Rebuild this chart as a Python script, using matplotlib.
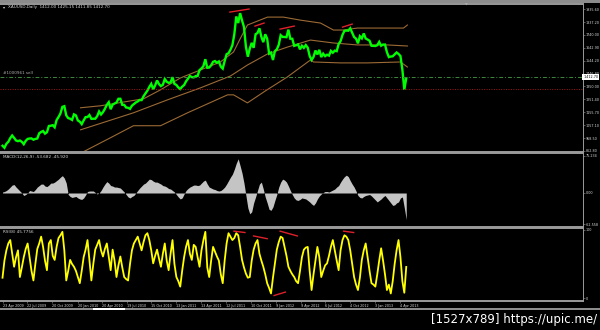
import matplotlib
matplotlib.use("Agg")
import matplotlib.pyplot as plt
from matplotlib.patches import Rectangle

W, H = 600, 330

# weekly closes, XAUUSD, week 0 = 23 Apr 2009
price = [
    900, 885, 915, 930, 958, 978, 960, 940, 935, 940,
    930, 912, 937, 952, 955, 956, 946, 952, 955, 995,
    1005, 1012, 992, 1003, 1050, 1052, 1056, 1040, 1095, 1118,
    1145, 1195, 1200, 1130, 1110, 1105, 1096, 1138, 1130, 1092,
    1083, 1064, 1092, 1117, 1118, 1133, 1104, 1105, 1105, 1124,
    1160, 1137, 1155, 1180, 1210, 1230, 1177, 1212, 1220, 1228,
    1256, 1256, 1210, 1210, 1190, 1188, 1180, 1204, 1216, 1228,
    1236, 1247, 1246, 1275, 1297, 1318, 1346, 1369, 1328, 1357,
    1395, 1368, 1352, 1362, 1406, 1385, 1377, 1380, 1420, 1369,
    1361, 1342, 1330, 1348, 1360, 1388, 1409, 1429, 1420, 1418,
    1428, 1429, 1474, 1486, 1504, 1556, 1491, 1493, 1510, 1536,
    1542, 1529, 1539, 1500, 1485, 1542, 1594, 1601, 1628, 1662,
    1745, 1880, 1830, 1905, 1850, 1800, 1650, 1575, 1636, 1680,
    1642, 1745, 1755, 1790, 1725, 1685, 1745, 1712, 1598, 1606,
    1550, 1617, 1631, 1665, 1738, 1725, 1724, 1723, 1780, 1711,
    1711, 1657, 1662, 1668, 1631, 1658, 1642, 1663, 1644, 1580,
    1550, 1573, 1622, 1592, 1627, 1572, 1598, 1579, 1590, 1583,
    1619, 1605, 1621, 1617, 1671, 1693, 1740, 1771, 1773, 1772,
    1790, 1757, 1724, 1712, 1676, 1730, 1714, 1751, 1713, 1705,
    1696, 1658, 1657, 1656, 1662, 1687, 1658, 1667, 1667, 1609,
    1572, 1576, 1578, 1592, 1607, 1596, 1580, 1476, 1325, 1412,
]

macd = [
    2, 3, 5, 8, 12, 16, 17, 12, 8, 4,
    0, -5, -3, 0, 5, 4, 3, 7, 12, 15,
    18, 18, 14, 13, 16, 20, 20, 22, 25, 28,
    32, 35, 30, 20, -3, -7, -9, -8, -7, -10,
    -12, -13, -10, -4, 3, 4, 4, 4, 1, -2,
    0, 5, 12, 18, 23, 20, 15, 14, 12, 12,
    11, 10, 6, 2, -3, -8, -10, -7, -5, 0,
    5, 10, 14, 18, 20, 24, 28, 27, 24, 22,
    22, 20, 18, 15, 14, 12, 9, 8, 5, 2,
    -3, -8, -12, -10, -2, 5, 9, 12, 14, 16,
    16, 15, 16, 20, 24, 26, 18, 12, 10, 8,
    7, 5, 4, 5, 8, 12, 18, 25, 32, 38,
    48, 60, 69, 55, 40, 20, -5, -30, -42, -38,
    -20, -8, 5, 18, 22, 8, -8, -20, -33, -35,
    -28, -15, -3, 12, 22, 28, 26, 22, 14, 5,
    -3, -10, -14, -15, -13, -10, -11, -12, -15, -18,
    -22, -25, -20, -12, -6, -2, 1, 3, 3, 2,
    4, 6, 8, 12, 15, 22, 28, 33, 36, 33,
    25, 18, 12, 4, -5, -9, -10, -7, -5, -4,
    -3, -6, -10, -14, -18, -15, -12, -8, -5, -10,
    -15, -20, -25, -24, -20, -18, -10, -8, -30, -53.682,
]

rsi = [
    30, 55, 70, 80, 85, 65, 46, 60, 70, 31,
    45, 60, 72, 80, 60, 40, 26, 50, 72, 80,
    90, 75, 55, 41, 80, 85, 62, 56, 75, 88,
    92, 97, 70, 26, 40, 56, 50, 46, 40, 31,
    22, 40, 60, 71, 85, 55, 26, 50, 71, 78,
    85, 70, 61, 72, 80, 60, 41, 71, 55, 31,
    48, 61, 45, 31, 28, 26, 50, 70, 80, 85,
    90, 80, 70, 82, 92, 95, 85, 70, 51, 62,
    71, 58, 46, 65, 80, 55, 41, 65, 85, 50,
    31, 25, 17, 40, 60, 75, 85, 65, 56, 78,
    75, 60, 46, 70, 85, 97, 45, 31, 55, 75,
    68, 61, 55, 35, 22, 55, 80, 95, 90, 85,
    88, 95, 92, 75, 56, 45, 36, 30, 31, 55,
    71, 80, 85, 65, 55, 46, 35, 22, 15, 7,
    30, 50, 71, 82, 90, 88, 75, 62, 46, 40,
    35, 31, 25, 22, 40, 60, 71, 74, 75, 40,
    12, 35, 55, 75, 60, 31, 40, 48, 51, 62,
    75, 85, 70, 55, 41, 70, 85, 92, 90, 85,
    70, 50, 31, 20, 12, 30, 56, 70, 80, 60,
    40, 22, 20, 17, 35, 55, 73, 55, 35, 12,
    20, 7, 25, 50, 70, 85, 60, 25, 8, 45.7756,
]

# long-period bands (week, price)
upper_wk = [40.4, 50.7, 73.0, 81.8, 92.1, 102.5, 112.8, 119.6, 123.2, 126.8,
            137.2, 145.4, 154.2, 164.6, 171.3, 176.5, 183.7, 207.6, 209.6]
upper_px = [1188, 1203, 1256, 1324, 1414, 1475, 1535, 1611, 1716, 1815,
            1875, 1875, 1852, 1830, 1777, 1777, 1792, 1792, 1815]
mid_wk = [40.4, 67.8, 85.4, 102.5, 118.0, 126.8, 137.2, 147.5, 159.4, 171.3,
          183.7, 199.3, 209.6]
mid_px = [1021, 1150, 1248, 1339, 1429, 1512, 1596, 1648, 1701, 1679,
          1664, 1664, 1656]
lower_wk = [41.9, 55.9, 67.8, 81.8, 95.8, 116.5, 119.6, 126.8, 136.1, 147.5,
            159.4, 161.0, 175.0, 188.9, 206.0, 209.6]
lower_px = [855, 961, 1052, 1052, 1150, 1286, 1286, 1225, 1316, 1422,
            1550, 1535, 1528, 1528, 1535, 1497]

# trend lines drawn on the chart: (w0, w1, v0, v1)
price_trends = [(117.7, 127.6, 1913, 1936), (130.7, 135.4, 1807, 1830),
                (143.7, 151.0, 1784, 1807), (176.0, 181.0, 1799, 1822)]
rsi_trends = [(119.8, 125.5, 98, 96), (130.0, 137.0, 91, 87),
              (143.7, 152.6, 98, 91), (140.6, 146.4, 4, 9),
              (176.6, 181.8, 98, 96)]

order_level = 1421
stop_level = 1333
last_price = "1412.70"

price_ticks = [1935.60, 1837.20, 1740.00, 1642.90, 1544.20, 1446.80,
               1350.00, 1251.40, 1155.70, 1057.10, 958.50, 862.80]
macd_ticks = [75.234, 0.0, -62.558]
macd_labels = ["75.234", "0.00", "-62.558"]
rsi_ticks = [100, 0]

date_wk = [0, 12.9, 25.7, 38.9, 51.7, 64.6, 77.1, 90, 102.9, 115.7,
           128.6, 141.6, 154.6, 167.1, 180, 193, 206]
date_labels = ["23 Apr 2009", "22 Jul 2009", "20 Oct 2009", "20 Jan 2010",
               "20 Apr 2010", "19 Jul 2010", "15 Oct 2010", "13 Jan 2011",
               "13 Apr 2011", "12 Jul 2011", "10 Oct 2011", "9 Jan 2012",
               "9 Apr 2012", "6 Jul 2012", "4 Oct 2012", "3 Jan 2013",
               "4 Apr 2013"]

weeks = list(range(len(price)))

BORDER = "#9a9a9a"
TXT = "#d8d8d8"


def rect(x0, y0, x1, y1):
    return [x0 / W, 1 - y1 / H, (x1 - x0) / W, (y1 - y0) / H]


fig = plt.figure(figsize=(W / 100, H / 100), dpi=100, facecolor="black")

ax = fig.add_axes(rect(0, 3.8, 583, 152))
ax_m = fig.add_axes(rect(0, 153, 583, 226.5))
ax_r = fig.add_axes(rect(0, 227.8, 583, 301))

for a in (ax, ax_m, ax_r):
    a.set_facecolor("black")
    a.set_xlim(-1.3, 300.5)
    a.spines["left"].set_visible(False)
    a.spines["right"].set_color(BORDER)
    a.spines["right"].set_linewidth(0.7)
    for s in ("top", "bottom"):
        a.spines[s].set_color(BORDER)
        a.spines[s].set_linewidth(1.4)
    a.yaxis.tick_right()
    a.tick_params(axis="y", colors=TXT, labelsize=2.4, length=1.3,
                  width=0.4, pad=0.8)
    a.tick_params(axis="y", color=BORDER)

ax.set_xticks([])
ax_m.set_xticks([])

# main price panel
ax.set_ylim(852.9, 1975.8)
ax.plot(upper_wk, upper_px, color="#9c6a34", lw=0.8)
ax.plot(mid_wk, mid_px, color="#9c6a34", lw=0.8)
ax.plot(lower_wk, lower_px, color="#9c6a34", lw=0.8)
ax.plot(weeks, price, color="#00ff00", lw=1.7, solid_joinstyle="miter")
for w0, w1, v0, v1 in price_trends:
    ax.plot([w0, w1], [v0, v1], color="#e0202a", lw=1.0)
ax.axhline(order_level, color="#3d8a3d", lw=0.7, dashes=(4, 2, 1, 2))
ax.axhline(stop_level, color="#a01818", lw=0.7, ls=(0, (1, 1.5)))
ax.set_yticks(price_ticks, [f"{t:.2f}" for t in price_ticks])
ax.text(1.0, order_level, " " + last_price, transform=ax.get_yaxis_transform(),
        fontsize=2.4, color="black", va="center", ha="left",
        bbox=dict(boxstyle="square,pad=0.25", fc="white", ec="white", lw=0))
ax.text(0.5, order_level + 12, "#1000961 sell", fontsize=3, color="#b0b0b0",
        va="bottom", ha="left")

# MACD panel
ax_m.set_ylim(-67.6, 80.7)
ax_m.fill_between(weeks, 0, macd, color="#c4c4c4", lw=0)
ax_m.set_yticks(macd_ticks, macd_labels)

# RSI panel
ax_r.set_ylim(-4, 102.9)
ax_r.plot(weeks, rsi, color="#ffff00", lw=1.3)
for w0, w1, v0, v1 in rsi_trends:
    ax_r.plot([w0, w1], [v0, v1], color="#e0202a", lw=1.0)
ax_r.set_yticks(rsi_ticks, [str(t) for t in rsi_ticks])
ax_r.set_xticks(date_wk, date_labels)
ax_r.tick_params(axis="x", colors=TXT, labelsize=2.4, length=1.5,
                 width=0.4, pad=0.8)
ax_r.tick_params(axis="x", color=BORDER)
for lab in ax_r.get_xticklabels():
    lab.set_ha("left")

# headers
fig.text(3 / W, 1 - 6.8 / H, "\u25be", fontsize=3, color=TXT, va="center")
fig.text(8 / W, 1 - 6.8 / H, "XAUUSD,Daily  1412.00 1425.15 1411.85 1412.70",
         fontsize=3, color=TXT, va="center")
fig.text(3 / W, 1 - 157 / H, "MACD(12,26,9) -53.682 -45.920",
         fontsize=3, color=TXT, va="center")
fig.text(3 / W, 1 - 232 / H, "RSI(8) 45.7756",
         fontsize=3, color=TXT, va="center")
fig.text(466 / W, 1 - 4.6 / H, "\u25bc", fontsize=2.5, color="#b0b0b0",
         va="center", ha="center")

# window chrome
fig.add_artist(Rectangle((0, 1 - 3 / H), 1, 3 / H, transform=fig.transFigure,
                         fc="#8c8c8c", ec="none"))
fig.add_artist(Rectangle((0, 1 - 310 / H), 1, 2 / H, transform=fig.transFigure,
                         fc="#8c8c8c", ec="none"))
fig.add_artist(Rectangle((93 / W, 1 - 310 / H), 32 / W, 2 / H,
                         transform=fig.transFigure, fc="white", ec="none"))

fig.text(597 / W, 1 - 320 / H, "[1527x789] https://upic.me/", ha="right",
         va="center", color="white", fontsize=8.5)

fig.savefig("out.png", dpi=100, facecolor="black")
